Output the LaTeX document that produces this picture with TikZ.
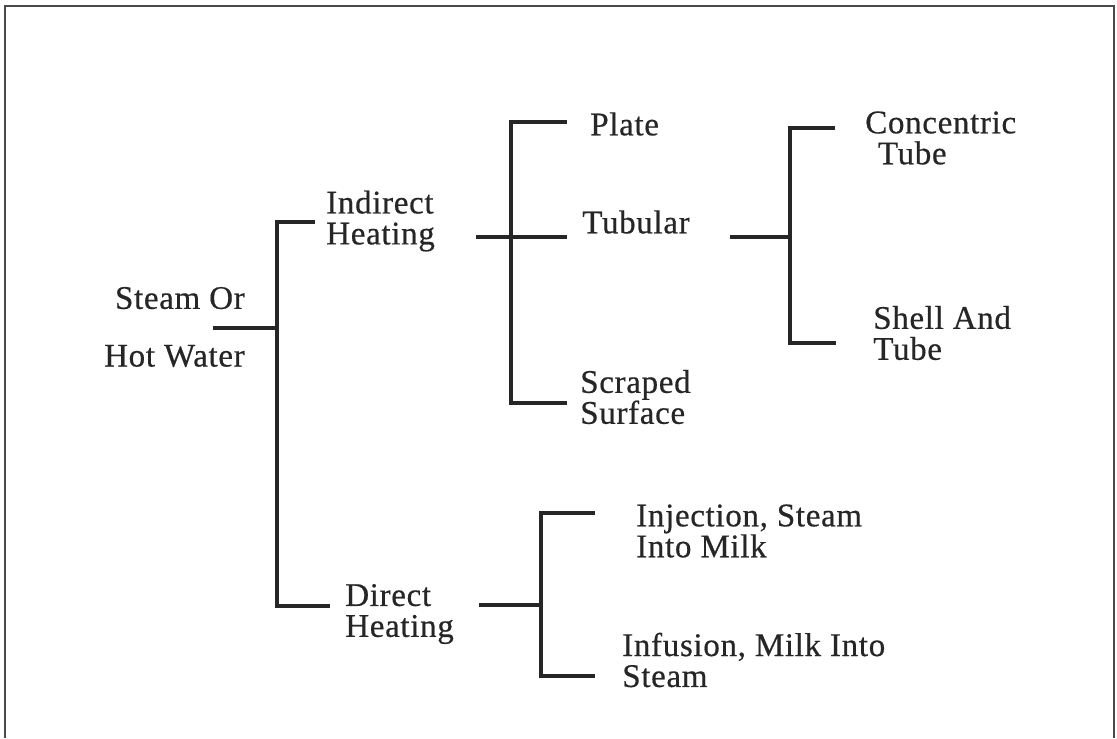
\documentclass[tikz,border=0pt]{standalone}
\usepackage{fontspec}
\setmainfont{Liberation Serif}[FakeBold=0.5, LetterSpace=2]
\usetikzlibrary{positioning}
\definecolor{ink}{HTML}{262626}
\definecolor{frame}{HTML}{4A4A4A}

\begin{document}
\begin{tikzpicture}[x=0.025cm, y=-0.025cm, font=\fontsize{23.5}{22}\selectfont,
    brk/.style={ink, line width=2.7pt},
    lbl/.style={ink, anchor=west, align=left, inner sep=0pt}]
    \useasboundingbox (0,0) rectangle (1117,738);
    \draw[frame, line width=1.3pt] (5,738) -- (5,6) -- (1114,6) -- (1114,738);
    % labels
    \node[lbl, anchor=east, align=right] (src) at (245,327) {Steam Or\\[19pt]Hot Water};
    \node[lbl] (ind) at (326,221) {Indirect\\Heating};
    \node[lbl] (dir) at (345,614) {Direct\\Heating};
    \node[lbl] (plate) at (590,124) {Plate};
    \node[lbl] (tub) at (582,222) {Tubular};
    \node[lbl] (scr) at (580,397) {Scraped\\Surface};
    \node[lbl] (conc) at (865,138) {Concentric\\\hspace{9pt}Tube};
    \node[lbl] (shell) at (873,333) {Shell And\\Tube};
    \node[lbl] (inj) at (636,531) {Injection, Steam\\Into Milk};
    \node[lbl] (inf) at (622,660) {Infusion, Milk Into\\Steam};
    % bracket corners
    \coordinate (srcIn) at (213,328);  \coordinate (srcJ) at (277,328);
    \coordinate (indEnd) at (315,222); \coordinate (dirEnd) at (330,606);
    \coordinate (indIn) at (476,237);  \coordinate (indJ) at (511,237);
    \coordinate (plEnd) at (567,122);  \coordinate (tuEnd) at (567,237); \coordinate (scEnd) at (567,403);
    \coordinate (tuIn) at (730,237);   \coordinate (tuJ) at (790,237);
    \coordinate (coEnd) at (835,128);  \coordinate (shEnd) at (836,343);
    \coordinate (dirIn) at (479,605);  \coordinate (dirJ) at (541,605);
    \coordinate (ijEnd) at (595,513);  \coordinate (ifEnd) at (595,676);
    % brackets
    \draw[brk] (srcIn) -- (srcJ);
    \draw[brk] (indEnd) -- (indEnd -| srcJ) -- (dirEnd -| srcJ) -- (dirEnd);
    \draw[brk] (indIn) -- (tuEnd);
    \draw[brk] (plEnd) -- (plEnd -| indJ) -- (scEnd -| indJ) -- (scEnd);
    \draw[brk] (tuIn) -- (tuJ);
    \draw[brk] (coEnd) -- (coEnd -| tuJ) -- (shEnd -| tuJ) -- (shEnd);
    \draw[brk] (dirIn) -- (dirJ);
    \draw[brk] (ijEnd) -- (ijEnd -| dirJ) -- (ifEnd -| dirJ) -- (ifEnd);
\end{tikzpicture}
\end{document}
